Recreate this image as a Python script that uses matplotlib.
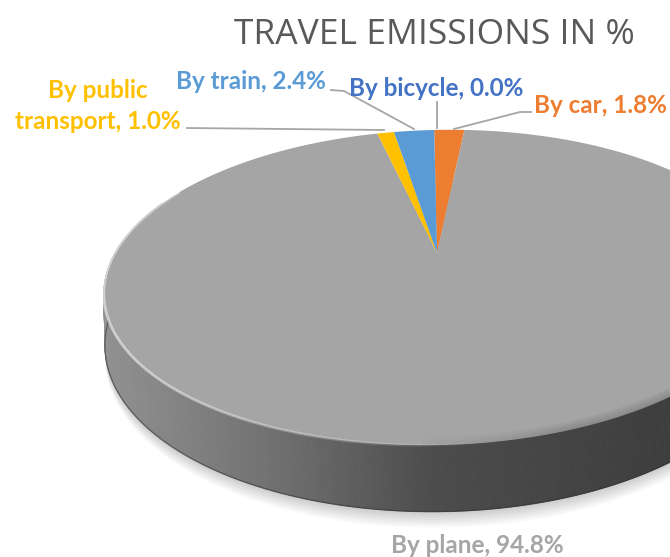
import numpy as np
import matplotlib.pyplot as plt
from matplotlib.collections import PolyCollection, LineCollection
from matplotlib.patches import Polygon
from matplotlib.colors import LinearSegmentedColormap

# data (clockwise from 12 o'clock)
categories = ['By car', 'By plane', 'By public\ntransport', 'By train', 'By bicycle']
shares = [1.8, 94.8, 1.0, 2.4, 0.0]
colors = ['#ED7D31', '#A5A5A5', '#FFC000', '#5B9BD5', '#4472C4']

# layout of the labels (pixels, y down = first baseline) and their leader lines
label_xy = [(600, 113), (477, 553), (98, 98), (251, 89), (436, 96)]
leaders = [
    [(531, 112), (520, 112), (454, 129)],
    None,
    [(187, 128), (384, 130)],
    [(331, 90), (344, 91), (414, 129)],
    [(437, 102), (437, 128)],
]
LINE_GAP = 31

# fake 3D projection of the pie disc
CX, CY = 437, 253
A, B, PERSP = 326, 150, 0.219
DEPTH, SKEW = 52, 0.04
TILT = np.radians(1.3)


def proj(theta, drop=0.0):
    X = np.sin(theta)
    Z = -np.cos(theta)
    f = 1 / (1 - PERSP * Z)
    x = A * X * f
    y = B * Z * f + drop * f * (1 + SKEW * X)
    xr = x * np.cos(TILT) + y * np.sin(TILT)
    yr = -x * np.sin(TILT) + y * np.cos(TILT)
    return CX + xr, CY + yr


fig = plt.figure(figsize=(6.7, 5.57), dpi=100)
ax = fig.add_axes([0, 0, 1, 1])
ax.set_xlim(0, 670)
ax.set_ylim(557, 0)
ax.axis('off')

th = np.linspace(0, 2 * np.pi, 721)
xt, yt = proj(th)
xb, yb = proj(th, DEPTH)
front = (th > np.radians(60)) & (th < np.radians(300))

# soft shadow under the disc
for k in range(8):
    xs, ys = proj(th, DEPTH + 2 + k * 1.5)
    ax.add_patch(Polygon(np.column_stack([xs, ys]), closed=True,
                         facecolor='black', edgecolor='none', alpha=0.022, zorder=1))

# side band, coloured by x position
side_cmap = LinearSegmentedColormap.from_list(
    'side', [(0, '#929292'), (0.3, '#727272'), (0.6, '#4c4c4c'), (1, '#3e3e3e')])
quads, qcol, qz = [], [], []
for i in range(720):
    zc = -np.cos(th[i])
    if zc < -0.4:
        continue
    quads.append([(xt[i], yt[i]), (xt[i + 1], yt[i + 1]), (xb[i + 1], yb[i + 1]), (xb[i], yb[i])])
    qcol.append(side_cmap(np.clip((xt[i] - 100) / 560, 0, 1)))
    qz.append(zc)
order = np.argsort(qz)
quads = [quads[i] for i in order]
qcol = [qcol[i] for i in order]
ax.add_collection(PolyCollection(quads, facecolors=qcol, edgecolors=qcol, linewidths=0.6, zorder=2))
ax.plot(xb[front], yb[front], color='#2e2e2e', lw=1.0, alpha=0.5, zorder=3)

# top face slices
start = 0.0
for share, col in zip(shares, colors):
    if share > 0:
        t = np.linspace(np.radians(start * 3.6), np.radians((start + share) * 3.6),
                        max(int(share * 8), 4))
        px, py = proj(t)
        pts = np.vstack([[CX, CY], np.column_stack([px, py])])
        ax.add_patch(Polygon(pts, closed=True, facecolor=col, edgecolor='none', zorder=4))
    start += share

# rim: light bevel on the left, soft dark blur on the right
segs, rcols, dcols = [], [], []
for i in np.where(front)[0][:-1]:
    segs.append([(xt[i], yt[i]), (xt[i + 1], yt[i + 1])])
    w = np.clip((xt[i] - 120) / 380, 0, 1)
    rcols.append((1, 1, 1, 0.55 * (1 - w)))
    dcols.append((0.3, 0.3, 0.3, 0.07 * np.clip((xt[i] - 420) / 150, 0, 1)))
ax.add_collection(LineCollection(segs, colors=rcols, linewidths=2.0, zorder=5))
for lw in [12, 9, 6, 3]:
    ax.add_collection(LineCollection(segs, colors=dcols, linewidths=lw,
                                     capstyle='butt', zorder=5))

# labels and leader lines
for name, share, col, (lx, ly), ld in zip(categories, shares, colors, label_xy, leaders):
    lines = f'{name}, {share:.1f}%'.split('\n')
    for j, line in enumerate(lines):
        ax.text(lx, ly + j * LINE_GAP, line, ha='center', va='baseline', color=col,
                fontsize=17.5, fontweight='bold', family=['Lato', 'DejaVu Sans'], zorder=6)
    if ld is not None:
        lxs, lys = zip(*ld)
        ax.plot(lxs, lys, color='#A6A6A6', lw=1.3, zorder=6)

ax.text(434, 44, 'TRAVEL EMISSIONS IN %', ha='center', va='baseline', color='#595959',
        fontsize=25.5, family=['Open Sans', 'DejaVu Sans'])

fig.savefig('out.png', dpi=100)
